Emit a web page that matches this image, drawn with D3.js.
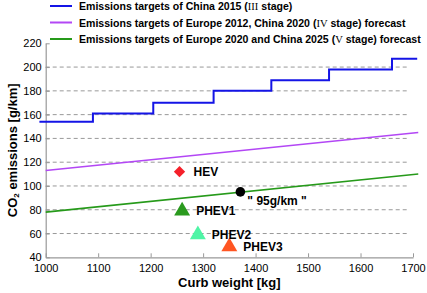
<!DOCTYPE html>
<html lang="en">
<head>
    <title>CO2 emissions vs curb weight</title>
    <style>
        body { margin: 0; background: #fff; }
        text { font-family: "Liberation Sans", Arial, sans-serif; }
        .tick text { font-size: 11px; fill: #000; }
        .lbl { font-weight: bold; font-size: 12px; }
        .roman { font-family: "Liberation Serif", "DejaVu Serif", serif; font-weight: normal; }
    </style>
    <script src="https://d3js.org/d3.v7.min.js"></script>
</head>
<body>
    <script>
        // China 2015 (III stage) step targets
        const stepWeights = [988, 1090, 1205, 1320, 1430, 1540, 1660, 1708];
        const stepValues  = [154, 161, 170, 180, 189, 198, 207, 207];

        // Europe 2012 / China 2020 (IV stage) forecast
        const ivWeights = [1000, 1710];
        const ivValues  = [113, 145];

        // Europe 2020 / China 2025 (V stage) forecast
        const vWeights = [1000, 1710];
        const vValues  = [78, 110];

        // vehicles
        const carNames   = ["HEV", "PHEV1", "PHEV2", "PHEV3"];
        const carWeights = [1255, 1260, 1290, 1350];
        const carValues  = [112, 79, 59, 49];
        const carColors  = ["#f5202a", "#2a9a1e", "#4ff5a6", "#ff5522"];

        const targetPoint = {w: 1371, v: 95, label: "\" 95g/km \""};

        const xTicks = [1000, 1100, 1200, 1300, 1400, 1500, 1600, 1700];
        const yTicks = [40, 60, 80, 100, 120, 140, 160, 180, 200, 220];

        const width = 427, height = 293;
        const svg = d3.select("body").append("svg")
            .attr("width", width).attr("height", height);

        const x = d3.scaleLinear().domain([1000, 1700]).range([45.7, 413]);
        const y = d3.scaleLinear().domain([40, 220]).range([257.3, 43.3]);

        // grid lines
        svg.append("g").selectAll("line")
            .data(yTicks.filter(d => d > 40 && d < 220))
            .enter().append("line")
            .attr("x1", x(1000)).attr("x2", x(1692))
            .attr("y1", d => y(d)).attr("y2", d => y(d))
            .attr("stroke", "#999").attr("stroke-width", 1)
            .attr("stroke-dasharray", "4,3");

        // axes
        const xAxis = svg.append("g")
            .attr("transform", `translate(0,${y(40)})`)
            .call(d3.axisBottom(x).tickValues(xTicks).tickFormat(d3.format("d"))
                .tickSizeInner(-4).tickSizeOuter(0).tickPadding(7));
        const yAxis = svg.append("g")
            .attr("transform", `translate(${x(1000)},0)`)
            .call(d3.axisLeft(y).tickValues(yTicks).tickFormat(d3.format("d"))
                .tickSizeInner(-4).tickSizeOuter(0).tickPadding(4));
        [xAxis, yAxis].forEach(a => {
            a.select(".domain").attr("stroke", "#999").attr("stroke-width", 1.2);
            a.selectAll(".tick line").attr("stroke", "#999");
        });

        // target lines
        const stepLine = d3.line().x(d => x(d[0])).y(d => y(d[1])).curve(d3.curveStepAfter);
        const straight = d3.line().x(d => x(d[0])).y(d => y(d[1]));
        svg.append("path")
            .datum(d3.zip(stepWeights, stepValues))
            .attr("fill", "none").attr("stroke", "#1414e6").attr("stroke-width", 2)
            .attr("d", stepLine);
        svg.append("path")
            .datum(d3.zip(ivWeights, ivValues))
            .attr("fill", "none").attr("stroke", "#b347f5").attr("stroke-width", 1.6)
            .attr("d", straight);
        svg.append("path")
            .datum(d3.zip(vWeights, vValues))
            .attr("fill", "none").attr("stroke", "#269a1a").attr("stroke-width", 1.6)
            .attr("d", straight);

        // vehicle markers
        const cars = carNames.map((n, i) => ({name: n, w: carWeights[i], v: carValues[i], c: carColors[i]}));
        svg.selectAll(".car")
            .data(cars).enter().append("path")
            .attr("transform", (d, i) => `translate(${x(d.w)},${y(d.v)})` + (i === 0 ? " rotate(45)" : ""))
            .attr("fill", d => d.c)
            .attr("d", (d, i) => i === 0
                ? d3.symbol(d3.symbolSquare, 64)()
                : d3.symbol(d3.symbolTriangle, 110)());
        svg.selectAll(".carlbl")
            .data(cars).enter().append("text")
            .attr("class", "lbl")
            .attr("x", d => x(d.w) + 14)
            .attr("y", d => y(d.v) + 4)
            .text(d => d.name);

        // 95 g/km point
        svg.append("circle")
            .attr("cx", x(targetPoint.w)).attr("cy", y(targetPoint.v))
            .attr("r", 4.8).attr("fill", "#000");
        svg.append("text").attr("class", "lbl")
            .attr("x", x(targetPoint.w) + 7).attr("y", y(targetPoint.v) + 13)
            .text(targetPoint.label);

        // axis titles
        svg.append("text").attr("class", "lbl")
            .attr("x", x(1350)).attr("y", 287)
            .attr("text-anchor", "middle").style("font-size", "13px")
            .text("Curb weight [kg]");
        const yt = svg.append("text").attr("class", "lbl")
            .attr("transform", `translate(17,${y(130)}) rotate(-90)`)
            .attr("text-anchor", "middle").style("font-size", "13px");
        yt.append("tspan").text("CO");
        yt.append("tspan").style("font-size", "8px").attr("dy", 2).text("2");
        yt.append("tspan").attr("dy", -2).text(" emissions [g/km]");

        // legend
        const legend = [
            {c: "#1414e6", parts: ["Emissions targets of China 2015 (", "III", " stage)"]},
            {c: "#b347f5", parts: ["Emissions targets of Europe 2012, China 2020 (", "IV", " stage) forecast"]},
            {c: "#269a1a", parts: ["Emissions targets of Europe 2020 and China 2025 (", "V", " stage) forecast"]}
        ];
        const lg = svg.append("g").selectAll("g")
            .data(legend).enter().append("g")
            .attr("transform", (d, i) => `translate(0,${6 + i * 16.5})`);
        lg.append("line").attr("x1", 50).attr("x2", 72)
            .attr("stroke", d => d.c).attr("stroke-width", 2);
        const lt = lg.append("text").attr("class", "lbl")
            .attr("x", 79).attr("y", 4).style("font-size", "11px");
        lt.each(function(d) {
            const t = d3.select(this);
            d.parts.forEach((p, i) => {
                t.append("tspan").attr("class", i === 1 ? "roman" : null).text(p);
            });
        });
        // fit the longest legend row to the reference width
        const longest = lt.nodes()[2].getComputedTextLength();
        const fs = 11 * 342 / longest;
        lt.style("font-size", fs + "px");
    </script>
</body>
</html>
